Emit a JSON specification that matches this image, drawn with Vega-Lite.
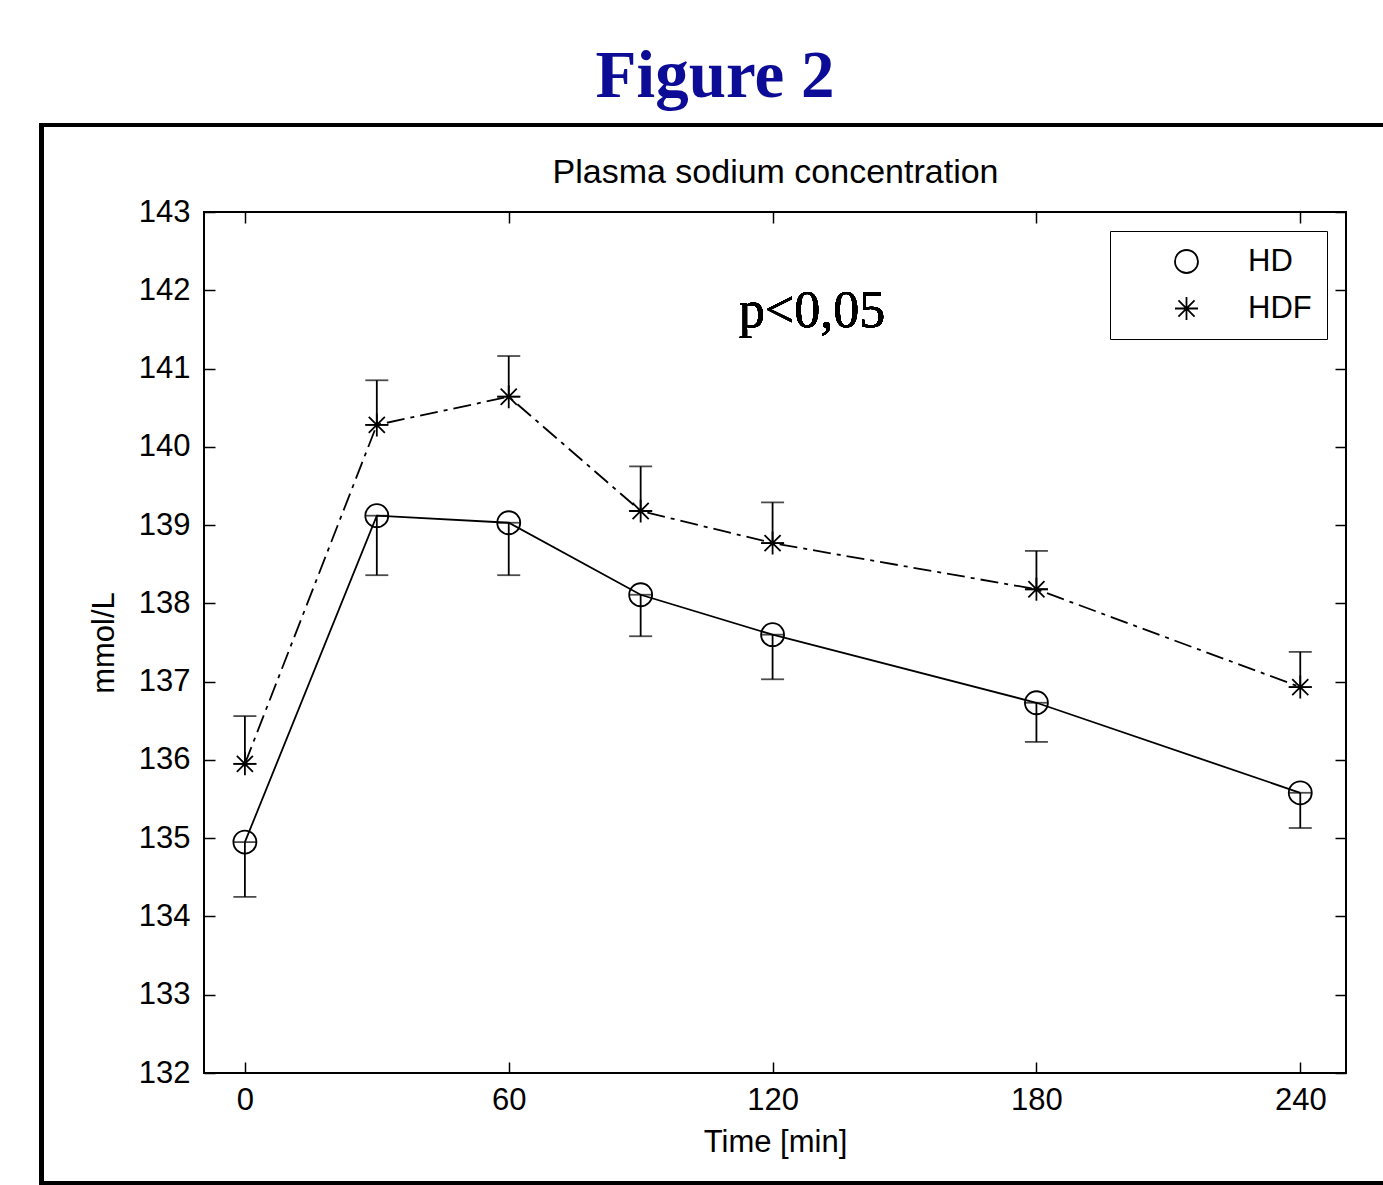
{
  "$schema": "https://vega.github.io/schema/vega-lite/v6.json",
  "width": 1142,
  "height": 861,
  "autosize": {"type": "none"},
  "padding": {"left": 204, "top": 212, "right": 37, "bottom": 112},
  "background": "white",
  "title": {
    "text": "Figure 2",
    "frame": "group",
    "anchor": "middle",
    "dx": -60,
    "offset": 12,
    "font": "Liberation Serif",
    "fontWeight": "bold",
    "fontSize": 67,
    "color": "#0c0c96"
  },
  "config": {
    "view": {"stroke": "black", "strokeWidth": 2},
    "axis": {
      "domain": false,
      "grid": false,
      "tickColor": "black",
      "tickWidth": 1.5,
      "tickSize": -11,
      "labelFont": "Liberation Sans",
      "labelFontSize": 31,
      "labelColor": "black",
      "titleFont": "Liberation Sans",
      "titleFontSize": 31,
      "titleFontWeight": "normal",
      "titleColor": "black"
    },
    "legend": {
      "labelFont": "Liberation Sans",
      "labelFontSize": 31,
      "labelColor": "black"
    }
  },
  "data": {
    "values": [
      {"time": 0, "series": "HD", "sodium": 134.95, "bound": 134.25},
      {"time": 30, "series": "HD", "sodium": 139.12, "bound": 138.36},
      {"time": 60, "series": "HD", "sodium": 139.03, "bound": 138.36},
      {"time": 90, "series": "HD", "sodium": 138.11, "bound": 137.58},
      {"time": 120, "series": "HD", "sodium": 137.6, "bound": 137.03},
      {"time": 180, "series": "HD", "sodium": 136.73, "bound": 136.23},
      {"time": 240, "series": "HD", "sodium": 135.58, "bound": 135.13},
      {"time": 0, "series": "HDF", "sodium": 135.95, "bound": 136.56},
      {"time": 30, "series": "HDF", "sodium": 140.28, "bound": 140.85},
      {"time": 60, "series": "HDF", "sodium": 140.64, "bound": 141.16},
      {"time": 90, "series": "HDF", "sodium": 139.18, "bound": 139.75},
      {"time": 120, "series": "HDF", "sodium": 138.77, "bound": 139.29},
      {"time": 180, "series": "HDF", "sodium": 138.18, "bound": 138.67},
      {"time": 240, "series": "HDF", "sodium": 136.93, "bound": 137.38}
    ]
  },
  "resolve": {"axis": {"x": "independent", "y": "independent"}},
  "layer": [
    {
      "mark": {"type": "rect", "filled": false, "stroke": "black", "strokeWidth": 4, "clip": false},
      "encoding": {
        "x": {"datum": -46.2, "type": "quantitative", "scale": {"domain": [-9.3, 250.4], "nice": false, "zero": false}, "axis": null},
        "x2": {"datum": 275},
        "y": {"datum": 144.11, "type": "quantitative", "scale": {"domain": [132, 143], "nice": false, "zero": false}, "axis": null},
        "y2": {"datum": 130.59}
      }
    },
    {
      "transform": [{"filter": "datum.series === 'HD'"}],
      "mark": {"type": "line", "color": "black", "strokeWidth": 1.8},
      "encoding": {
        "x": {
          "field": "time", "type": "quantitative",
          "scale": {"domain": [-9.3, 250.4], "nice": false, "zero": false},
          "axis": {"orient": "bottom", "values": [0, 60, 120, 180, 240], "title": "Time [min]", "labelPadding": 23, "titlePadding": 12}
        },
        "y": {
          "field": "sodium", "type": "quantitative",
          "scale": {"domain": [132, 143], "nice": false, "zero": false},
          "axis": {"orient": "left", "values": [132, 133, 134, 135, 136, 137, 138, 139, 140, 141, 142, 143], "title": "mmol/L", "labelPadding": 25, "titlePadding": 18}
        }
      }
    },
    {
      "transform": [{"filter": "datum.series === 'HDF'"}],
      "mark": {"type": "line", "color": "black", "strokeWidth": 1.8, "strokeDash": [18, 6, 4, 6]},
      "encoding": {
        "x": {"field": "time", "type": "quantitative", "axis": null},
        "y": {"field": "sodium", "type": "quantitative", "axis": null}
      }
    },
    {
      "mark": {
        "type": "errorbar",
        "ticks": {"size": 23, "thickness": 1.8, "color": "black"},
        "rule": {"strokeWidth": 1.8, "color": "black"}
      },
      "encoding": {
        "x": {
          "field": "time", "type": "quantitative",
          "axis": {"orient": "top", "values": [0, 60, 120, 180, 240], "labels": false, "title": "Plasma sodium concentration", "titleFontSize": 34, "titlePadding": 22}
        },
        "y": {
          "field": "sodium", "type": "quantitative",
          "axis": {"orient": "right", "values": [132, 133, 134, 135, 136, 137, 138, 139, 140, 141, 142, 143], "labels": false, "title": null}
        },
        "y2": {"field": "bound"},
        "detail": {"field": "series"}
      }
    },
    {
      "mark": {"type": "point", "filled": false, "stroke": "black", "strokeWidth": 1.8, "size": 529, "opacity": 1},
      "encoding": {
        "x": {"field": "time", "type": "quantitative", "axis": null},
        "y": {"field": "sodium", "type": "quantitative", "axis": null},
        "shape": {
          "field": "series", "type": "nominal",
          "scale": {"domain": ["HD", "HDF"], "range": ["circle", "M-1,0L1,0M0,-1L0,1M-0.7,-0.7L0.7,0.7M-0.7,0.7L0.7,-0.7"]},
          "legend": {
            "title": null,
            "orient": "top-right",
            "offset": 19,
            "strokeColor": "black",
            "fillColor": "white",
            "padding": 15,
            "symbolSize": 529,
            "symbolStrokeColor": "black",
            "symbolStrokeWidth": 1.8,
            "symbolOffset": 46,
            "labelOffset": 46,
            "rowPadding": 15
          }
        }
      }
    },
    {
      "mark": {"type": "text", "font": "Liberation Serif", "fontSize": 52, "color": "black", "align": "center", "baseline": "alphabetic"},
      "encoding": {
        "x": {"datum": 129, "type": "quantitative", "axis": null},
        "y": {"datum": 141.53, "type": "quantitative", "axis": null},
        "text": {"value": "p<0,05"}
      }
    }
  ]
}
